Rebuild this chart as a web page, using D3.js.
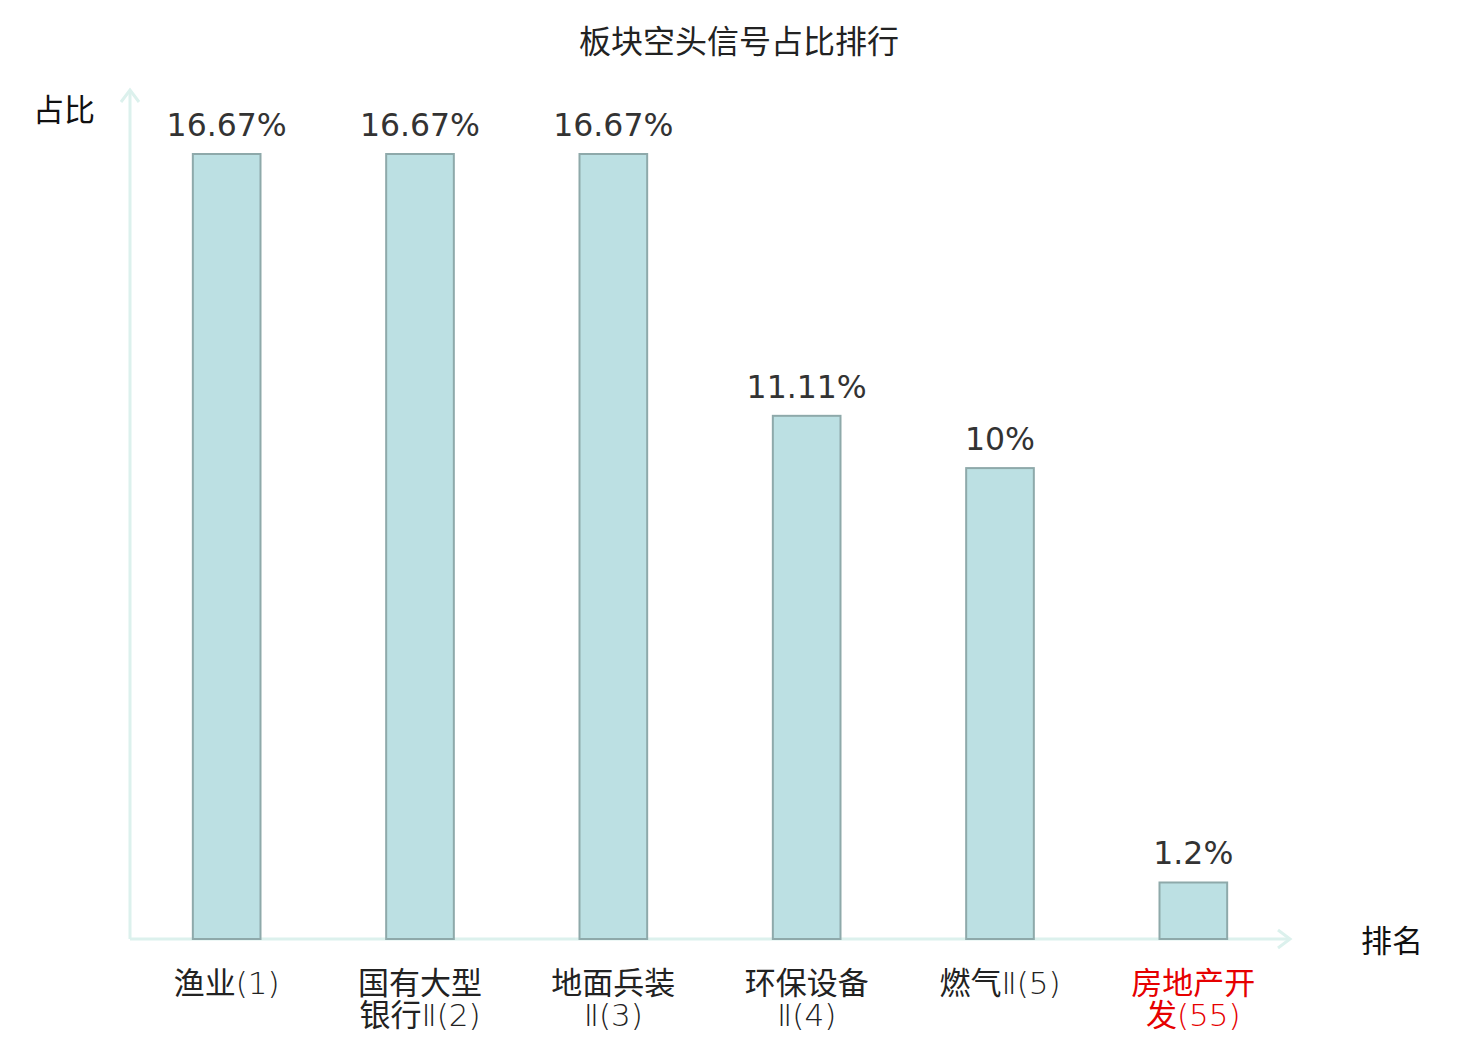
<!DOCTYPE html>
<html>
<head>
<meta charset="utf-8">
<script src="https://cdn.jsdelivr.net/npm/d3@7"></script>
<style>
  body { margin: 0; background: #fff; }
  text { font-family: "Noto Sans CJK SC", "Noto Sans", sans-serif; }
  text.val { font-family: "DejaVu Sans", sans-serif; }
  .latin { font-family: "DejaVu Sans", sans-serif; font-weight: 200; }
</style>
</head>
<body>
<div class="chart"></div>
<script>
// DATA ------------------------------
const categories = ["渔业(1)", "国有大型银行Ⅱ(2)", "地面兵装Ⅱ(3)", "环保设备Ⅱ(4)", "燃气Ⅱ(5)", "房地产开发(55)"];
const labelLines = [["渔业(1)"], ["国有大型", "银行Ⅱ(2)"], ["地面兵装", "Ⅱ(3)"], ["环保设备", "Ⅱ(4)"], ["燃气Ⅱ(5)"], ["房地产开", "发(55)"]];
const values = [16.67, 16.67, 16.67, 11.11, 10, 1.2];
const highlight = [false, false, false, false, false, true];

// CHART INIT ------------------------
const W = 1480, H = 1040;
const margin = ({top: 154, right: 190, bottom: 101, left: 130});
const width = W - margin.left - margin.right;
const height = H - margin.top - margin.bottom;

const svg = d3.select(".chart").append("svg")
    .attr("width", W)
    .attr("height", H);

const axisColor = "#dcf1ed";

const g = svg.append("g")
    .attr("transform", `translate(${margin.left},${margin.top})`);

const xScale = d3.scaleBand()
    .domain(categories)
    .range([0, width]);

const yScale = d3.scaleLinear()
    .domain([0, d3.max(values)])
    .range([height, 0]);

const data = categories.map((c, i) => ({cat: c, value: values[i], lines: labelLines[i], hot: highlight[i]}));

// title
svg.append("text")
    .attr("x", W / 2 - 1)
    .attr("y", 53)
    .attr("text-anchor", "middle")
    .attr("font-size", 32)
    .attr("fill", "#222")
    .text("板块空头信号占比排行");

// axes (arrow style)
g.append("line")
    .attr("x1", 0).attr("x2", 0)
    .attr("y1", height).attr("y2", -64)
    .attr("stroke", axisColor).attr("stroke-width", 3);
g.append("path")
    .attr("d", "M-9,-52 L0,-64 L9,-52")
    .attr("fill", "none").attr("stroke", axisColor).attr("stroke-width", 3);

g.append("line")
    .attr("x1", 0).attr("x2", width)
    .attr("y1", height).attr("y2", height)
    .attr("stroke", axisColor).attr("stroke-width", 3);
g.append("path")
    .attr("d", `M${width - 12},${height - 9} L${width},${height} L${width - 12},${height + 9}`)
    .attr("fill", "none").attr("stroke", axisColor).attr("stroke-width", 3);

// axis names
svg.append("text")
    .attr("x", 33).attr("y", 121)
    .attr("font-size", 31).attr("fill", "#111")
    .text("占比");
svg.append("text")
    .attr("x", 1361).attr("y", 952)
    .attr("font-size", 31).attr("fill", "#111")
    .text("排名");

// bars
const barW = xScale.bandwidth() * 0.35;
g.selectAll("rect.bar")
    .data(data)
    .enter()
    .append("rect")
    .attr("class", "bar")
    .attr("x", d => xScale(d.cat) + xScale.bandwidth() / 2 - barW / 2)
    .attr("y", d => yScale(d.value))
    .attr("width", barW)
    .attr("height", d => height - yScale(d.value))
    .attr("fill", "#bce0e3")
    .attr("stroke", "#8ea9aa")
    .attr("stroke-width", 2);

// value labels
g.selectAll("text.val")
    .data(data)
    .enter()
    .append("text")
    .attr("class", "val")
    .attr("x", d => xScale(d.cat) + xScale.bandwidth() / 2)
    .attr("y", d => yScale(d.value) - 18)
    .attr("text-anchor", "middle")
    .attr("font-size", 31.5)
    .attr("fill", "#333")
    .text(d => d3.format(".4~")(d.value) + "%");

// category labels: CJK runs in Noto CJK, the rest in light DejaVu
const splitRuns = s => s.match(/[\u4e00-\u9fff]+|[^\u4e00-\u9fff]+/g);

const cl = g.selectAll("text.cat")
    .data(data)
    .enter()
    .append("text")
    .attr("class", "cat")
    .attr("text-anchor", "middle")
    .attr("font-size", 31)
    .attr("fill", d => d.hot ? "#e60000" : "#222")
    .attr("transform", d => `translate(${xScale(d.cat) + xScale.bandwidth() / 2},${height + 55})`);

const line = cl.selectAll("tspan.line")
    .data(d => d.lines)
    .enter()
    .append("tspan")
    .attr("class", "line")
    .attr("x", 0)
    .attr("y", (d, i) => i * 32);

line.selectAll("tspan")
    .data(d => splitRuns(d))
    .enter()
    .append("tspan")
    .attr("class", d => /[\u4e00-\u9fff]/.test(d) ? null : "latin")
    .text(d => d);
</script>
</body>
</html>
